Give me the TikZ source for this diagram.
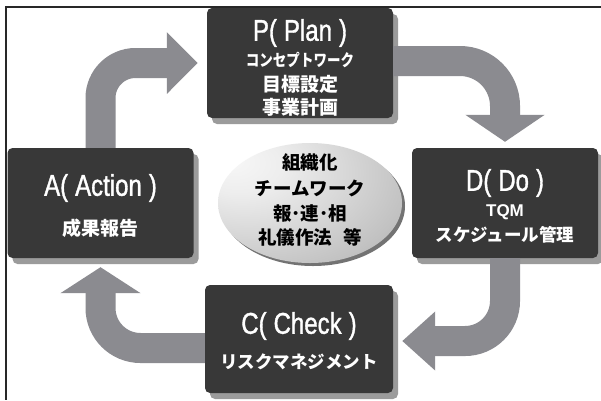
\documentclass[tikz,border=0pt]{standalone}
\usepackage{fontspec}
\usepackage{graphicx}
\setmainfont{Liberation Sans}
\newfontfamily\jp{Noto Sans CJK JP}
\newfontfamily\ttl{Liberation Sans}[FakeStretch=0.8,FakeBold=1.2]
\usetikzlibrary{arrows.meta,shadows,shapes.geometric,calc}
\definecolor{arrowgray}{RGB}{139,139,144}
\definecolor{boxdark}{RGB}{56,56,56}
\definecolor{shadowgray}{RGB}{155,155,155}
\definecolor{frameline}{RGB}{40,40,40}
\pgfdeclareradialshading{ellshade}{\pgfpoint{-22bp}{18bp}}{color(0bp)=(white!97!black); color(12bp)=(white!93!black); color(40bp)=(white!76!black); color(58bp)=(white!62!black); color(100bp)=(white!62!black)}
\tikzset{
  box/.style={rectangle, rounded corners=5pt, fill=boxdark, minimum width=186pt, minimum height=110pt, inner sep=0pt,
    drop shadow={shadow xshift=5pt, shadow yshift=-6pt, fill=shadowgray, opacity=1}},
  flow/.style={draw=arrowgray, line width=30pt, line cap=butt},
  ttltext/.style={text=white, font=\ttl\fontsize{30}{30}\selectfont, inner sep=0pt},
  jptext/.style={text=white, font=\jp\bfseries\fontsize{19}{19}\selectfont, inner sep=0pt},
  elltext/.style={text=black, font=\jp\bfseries\fontsize{18.5}{18.5}\selectfont, inner sep=0pt},
}
\newcommand\ttlpar[2]{#1(\hspace{7pt}#2\hspace{7pt})}
\begin{document}
\begin{tikzpicture}[x=1pt,y=-1pt]
\useasboundingbox (0,0) rectangle (601,400);
\fill[white] (0,0) rectangle (601,400);
\draw[frameline, line width=1.6pt] (601,7) -- (6,7) -- (6,400);

% boxes
\node[box] (P) at (300,63) {};
\node[box] (A) at (100.5,203) {};
\node[box] (D) at (505,203) {};
\node[box, minimum width=188pt, minimum height=108pt] (C) at (299,339) {};

% arrows
\draw[flow, rounded corners=35pt, -{Triangle[length=31pt,width=60pt]}] (A.north) |- ([xshift=-9pt]P.west);
\draw[flow, rounded corners=45pt, -{Triangle[length=27pt,width=78pt]}] ([yshift=2pt]P.east) -| ([yshift=6pt]D.north);
\draw[flow, rounded corners=40pt, -{Triangle[length=33pt,width=57pt]}] (D.south) |- ([xshift=9pt,yshift=-2pt]C.east);
\draw[flow, rounded corners=40pt, -{Triangle[length=26pt,width=79pt]}] ([yshift=-9pt]C.west) -| ([yshift=-9pt]A.south);

% ellipse
\node[ellipse, minimum width=184pt, minimum height=120pt, inner sep=0pt, shading=ellshade,
  drop shadow={shadow xshift=3pt, shadow yshift=-3pt, fill=white!45!black, opacity=1}] (E) at (310,203) {};

% texts
\node[ttltext] (P1) at (300,33) {\ttlpar{P}{Plan}};
\node[jptext] (P2) at (300,60) {\scalebox{0.82}[1]{\fontsize{16.5}{16.5}\selectfont コンセプトワーク}};
\node[jptext] (P3) at (300,84) {目標設定};
\node[jptext] (P4) at (300,107) {事業計画};
\node[ttltext] (A1) at (100.5,188) {\ttlpar{A}{Action}};
\node[jptext] (A2) at (100.5,228) {成果報告};
\node[ttltext] (D1) at (505,183) {\ttlpar{D}{Do}};
\node[text=white, font=\bfseries\fontsize{17}{17}\selectfont, inner sep=0pt] (D2) at (505,212) {TQM};
\node[jptext, font=\jp\bfseries\fontsize{17.5}{17.5}\selectfont] (D3) at (505,235) {スケジュール管理};
\node[ttltext] (C1) at (299,326) {\ttlpar{C}{Check}};
\node[jptext, font=\jp\bfseries\fontsize{17.5}{17.5}\selectfont] (C2) at (299,362) {リスクマネジメント};
\node[elltext] (E1) at (310,163) {組織化};
\node[elltext] (E2) at (310,188) {チームワーク};
\node[elltext] (E3) at (310,213) {報･連･相};
\node[elltext] (E4) at (310,237) {礼儀作法\hspace{0.6em}等};
\end{tikzpicture}
\end{document}
